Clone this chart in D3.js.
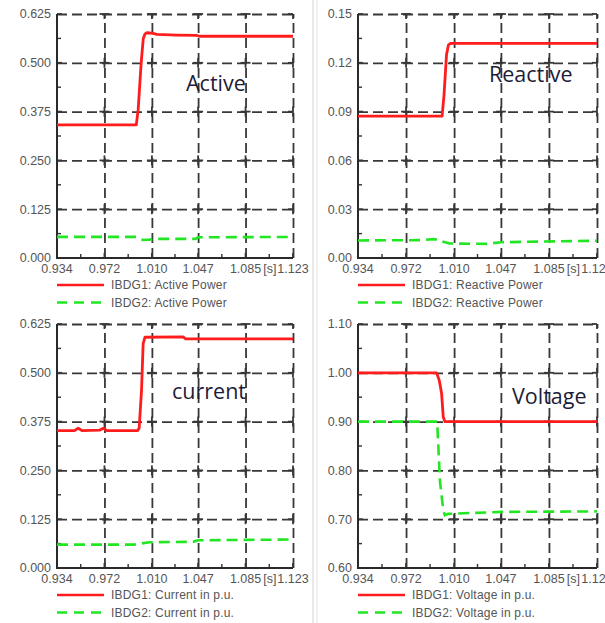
<!DOCTYPE html>
<html><head><meta charset="utf-8">
<script src="https://cdn.jsdelivr.net/npm/d3@7"></script>
<style>body{margin:0;background:#fff} svg{display:block;background:#fff}</style>
</head><body>
<svg id="c" width="605" height="623"></svg>
<script>
// ---------- data ----------
const xTicks = [0.934, 0.972, 1.010, 1.047, 1.085, 1.123];
const xTickLabels = ["0.934", "0.972", "1.010", "1.047", "1.085", "1.123"];
const xUnit = "[s]";

const powerTicks = [0, 0.125, 0.25, 0.375, 0.5, 0.625];
const powerTickLabels = ["0.000", "0.125", "0.250", "0.375", "0.500", "0.625"];
const reactiveTicks = [0, 0.03, 0.06, 0.09, 0.12, 0.15];
const reactiveTickLabels = ["0.00", "0.03", "0.06", "0.09", "0.12", "0.15"];
const voltageTicks = [0.6, 0.7, 0.8, 0.9, 1.0, 1.1];
const voltageTickLabels = ["0.60", "0.70", "0.80", "0.90", "1.00", "1.10"];

// [time s, value]
const activeIBDG1 = [[0.934,0.341],[0.9975,0.341],[0.9990,0.380],[1.0010,0.480],[1.0018,0.515],[1.0031,0.562],[1.0045,0.574],[1.0060,0.577],[1.0100,0.576],[1.0140,0.573],[1.0300,0.571],[1.0460,0.570],[1.0480,0.568],[1.123,0.568]];
const activeIBDG2 = [[0.934,0.054],[0.9975,0.054],[1.0005,0.049],[1.0030,0.046],[1.0080,0.047],[1.0120,0.049],[1.0450,0.049],[1.0470,0.053],[1.123,0.054]];
const reactiveIBDG1 = [[0.934,0.0872],[1.0005,0.0872],[1.0020,0.100],[1.0040,0.125],[1.0055,0.131],[1.0075,0.132],[1.123,0.132]];
const reactiveIBDG2 = [[0.934,0.0108],[0.985,0.0110],[0.9935,0.0116],[0.9990,0.0112],[1.0015,0.0100],[1.0065,0.0089],[1.0360,0.0087],[1.0470,0.0097],[1.123,0.0106]];
const currentIBDG1 = [[0.934,0.352],[0.948,0.352],[0.951,0.358],[0.954,0.352],[0.968,0.353],[0.971,0.358],[0.974,0.352],[0.9985,0.352],[0.9998,0.358],[1.0017,0.456],[1.0030,0.575],[1.0044,0.591],[1.035,0.592],[1.037,0.587],[1.123,0.587]];
const currentIBDG2 = [[0.934,0.060],[0.996,0.060],[1.002,0.063],[1.008,0.066],[1.043,0.067],[1.047,0.071],[1.123,0.073]];
const voltageIBDG1 = [[0.934,1.0],[0.9961,1.0],[0.9982,0.985],[1.0001,0.958],[1.0014,0.910],[1.0027,0.900],[1.123,0.900]];
const voltageIBDG2 = [[0.934,0.900],[0.9966,0.900],[0.9988,0.778],[1.0014,0.719],[1.0027,0.708],[1.0053,0.711],[1.047,0.715],[1.123,0.716]];

const legendActive = ["IBDG1: Active Power", "IBDG2: Active Power"];
const legendReactive = ["IBDG1: Reactive Power", "IBDG2: Reactive Power"];
const legendCurrent = ["IBDG1: Current in p.u.", "IBDG2: Current in p.u."];
const legendVoltage = ["IBDG1: Voltage in p.u.", "IBDG2: Voltage in p.u."];
const titles = ["Active", "Reactive", "current", "Voltage"];

// ---------- drawing ----------
const svg = d3.select("#c");
const RED = "#ff1c1c", GREEN = "#22e622", GRID = "#383838", TXT = "#555";

// panel separators
svg.append("line").attr("x1",313).attr("x2",313).attr("y1",0).attr("y2",623).attr("stroke","#d4d4d4").attr("stroke-width",1);
svg.append("line").attr("x1",317).attr("x2",317).attr("y1",0).attr("y2",623).attr("stroke","#e2e2e2").attr("stroke-width",1);

function panel(cfg) {
  const w = cfg.right - cfg.left, h = cfg.bottom - cfg.top;
  const g = svg.append("g").attr("transform", `translate(${cfg.left},${cfg.top})`);
  const x = d3.scaleLinear().domain([xTicks[0], xTicks[xTicks.length-1]]).range([0, w]);
  const y = d3.scaleLinear().domain([cfg.yTicks[0], cfg.yTicks[cfg.yTicks.length-1]]).range([h, 0]);

  // grid via axes
  const gy = g.append("g").call(d3.axisLeft(y).tickValues(cfg.yTicks.slice(1)).tickSize(-w).tickFormat(""));
  const gx = g.append("g").attr("transform", `translate(0,${h})`)
    .call(d3.axisBottom(x).tickValues(xTicks.slice(1)).tickSize(-h).tickFormat(""));
  [gx, gy].forEach(a => {
    a.select(".domain").remove();
    a.selectAll("line").attr("stroke", GRID).attr("stroke-width", 1.8).attr("stroke-dasharray", "10,5");
  });
  // crosses at grid intersections
  const cr = g.append("g").attr("stroke", GRID).attr("stroke-width", 1.8);
  xTicks.forEach((tx, i) => cfg.yTicks.forEach((ty, j) => {
    const px = x(tx), py = y(ty);
    if (i > 0) cr.append("line").attr("x1", px).attr("x2", px).attr("y1", Math.max(0, py-5)).attr("y2", Math.min(h, py+5));
    if (j > 0) cr.append("line").attr("x1", Math.max(0, px-5)).attr("x2", Math.min(w, px+5)).attr("y1", py).attr("y2", py);
  }));

  // minor ticks
  const mt = g.append("g").attr("stroke", "#333").attr("stroke-width", 1.4);
  for (let i = 0; i < xTicks.length-1; i++) {
    const m = x((xTicks[i]+xTicks[i+1])/2);
    mt.append("line").attr("x1", m).attr("x2", m).attr("y1", h).attr("y2", h-4);
  }
  for (let j = 0; j < cfg.yTicks.length-1; j++) {
    const m = y((cfg.yTicks[j]+cfg.yTicks[j+1])/2);
    mt.append("line").attr("x1", 0).attr("x2", 4).attr("y1", m).attr("y2", m);
  }

  // axis lines
  g.append("path").attr("d", `M0,0V${h}H${w}`).attr("fill","none").attr("stroke","#2a2a2a").attr("stroke-width",2);

  // tick labels
  const lab = g.append("g").attr("font-family","'Liberation Sans',Arial,sans-serif").attr("fill",TXT);
  cfg.yTicks.forEach((t, j) => lab.append("text").attr("x",-6).attr("y",y(t)).attr("dy","0.35em")
    .attr("text-anchor","end").attr("font-size",12.5).text(cfg.yLabels[j]));
  xTicks.forEach((t, i) => lab.append("text").attr("x",x(t)).attr("y",h+15)
    .attr("text-anchor","middle").attr("font-size",12.5).text(xTickLabels[i]));
  lab.append("text").attr("x",(x(xTicks[4])+x(xTicks[5]))/2+0.5).attr("y",h+15)
    .attr("text-anchor","middle").attr("font-size",12.5).text(xUnit);

  // series
  const line = d3.line().x(d => x(d[0])).y(d => y(d[1]));
  g.append("path").datum(cfg.s2).attr("d", line).attr("fill","none").attr("stroke",GREEN)
    .attr("stroke-width",2.6).attr("stroke-dasharray","11,6");
  g.append("path").datum(cfg.s1).attr("d", line).attr("fill","none").attr("stroke",RED)
    .attr("stroke-width",2.8).attr("stroke-linejoin","round");

  // legend
  const lg = svg.append("g").attr("transform", `translate(${cfg.left},${cfg.bottom})`);
  lg.append("line").attr("x1",0).attr("x2",47).attr("y1",27).attr("y2",27).attr("stroke",RED).attr("stroke-width",2.6);
  lg.append("line").attr("x1",0).attr("x2",47).attr("y1",44.5).attr("y2",44.5).attr("stroke",GREEN).attr("stroke-width",2.6).attr("stroke-dasharray","10,7");
  cfg.legend.forEach((t, i) => lg.append("text").attr("x",54).attr("y",31+i*17.5)
    .attr("font-family","'Liberation Sans',Arial,sans-serif").attr("font-size",12).attr("letter-spacing",0.2)
    .attr("fill",TXT).text(t));

  // annotation
  svg.append("text").attr("x",cfg.title[1]).attr("y",cfg.title[2])
    .attr("font-family","'Open Sans',sans-serif").attr("font-size",21.5).attr("fill","#1c1c38").text(cfg.title[0]);
}

panel({left:57, top:14, right:293, bottom:258, yTicks:powerTicks, yLabels:powerTickLabels,
  s1:activeIBDG1, s2:activeIBDG2, legend:legendActive, title:[titles[0],186,91]});
panel({left:358, top:14, right:597, bottom:258, yTicks:reactiveTicks, yLabels:reactiveTickLabels,
  s1:reactiveIBDG1, s2:reactiveIBDG2, legend:legendReactive, title:[titles[1],489,82]});
panel({left:57, top:324, right:293, bottom:568, yTicks:powerTicks, yLabels:powerTickLabels,
  s1:currentIBDG1, s2:currentIBDG2, legend:legendCurrent, title:[titles[2],172,399]});
panel({left:358, top:324, right:597, bottom:568, yTicks:voltageTicks, yLabels:voltageTickLabels,
  s1:voltageIBDG1, s2:voltageIBDG2, legend:legendVoltage, title:[titles[3],512,404]});
</script>
</body></html>
